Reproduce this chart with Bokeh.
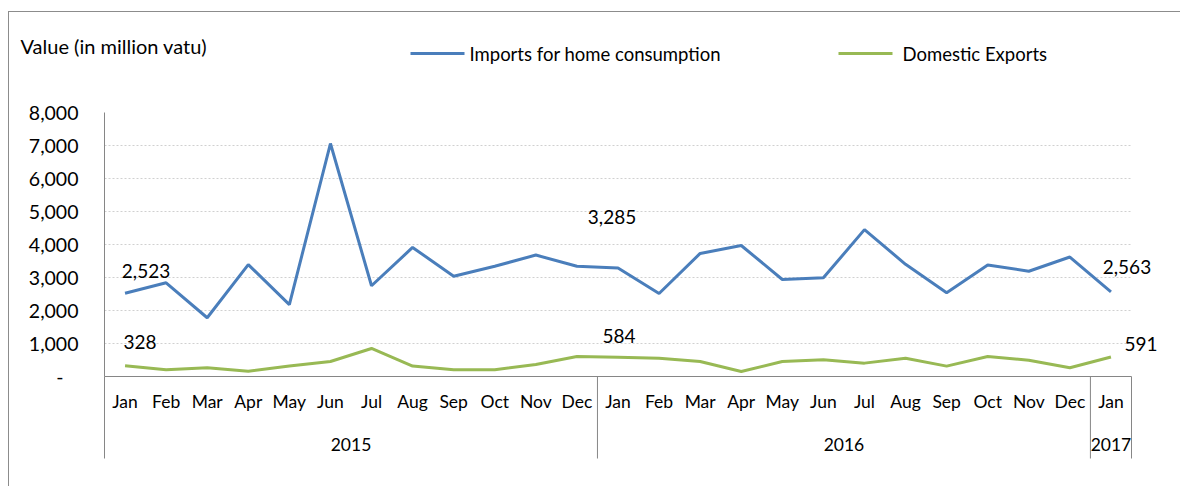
from bokeh.plotting import figure
from bokeh.models import (FactorRange, Range1d, FixedTicker, NumeralTickFormatter,
                          ColumnDataSource)
from bokeh.core.properties import value
from bokeh.embed import file_html
from bokeh.resources import INLINE

# ---- data ----
years = ["2015"] * 12 + ["2016"] * 12 + ["2017"]
months = ["Jan", "Feb", "Mar", "Apr", "May", "Jun", "Jul", "Aug", "Sep", "Oct", "Nov", "Dec"] * 2 + ["Jan"]
imports = [2523, 2840, 1780, 3390, 2180, 7060, 2750, 3910, 3040, 3340, 3680, 3340,
           3285, 2515, 3730, 3970, 2940, 2990, 4450, 3400, 2540, 3380, 3190, 3620, 2563]
exports = [328, 205, 265, 160, 315, 455, 850, 315, 205, 205, 365, 605,
           584, 555, 455, 150, 455, 505, 405, 555, 315, 605, 495, 265, 591]
y_ticks = [0, 1000, 2000, 3000, 4000, 5000, 6000, 7000, 8000]
labelled = [0, 12, 24]
series_names = ["Imports for home consumption", "Domestic Exports"]
title_text = "Value (in million vatu)"

FONT = "Lato"
BLUE = "#4a7ebb"
GREEN = "#98b954"
AXIS = "#868686"
FRAME = "#8c8c8c"

# ---- layout (page pixels) ----
W, H = 1180, 486
F_LEFT, F_RIGHT, F_TOP, F_BOTTOM = 104, 1131, 112, 376
Y_MAX = y_ticks[-1]
factors = list(zip(years, months))
CAT_W = (F_RIGHT - F_LEFT) / len(factors)


def ypx(py):
    """page pixel row -> data y"""
    return Y_MAX * (F_BOTTOM - py) / (F_BOTTOM - F_TOP)


def fx(px):
    """page pixel column -> categorical coordinate (first factor + offset)"""
    return (years[0], months[0], (px - F_LEFT) / CAT_W - 0.5)


p = figure(width=W, height=H, output_backend="svg", toolbar_location=None,
           x_range=FactorRange(*factors, factor_padding=0, group_padding=0,
                               subgroup_padding=0, range_padding=0),
           y_range=Range1d(0, Y_MAX),
           min_border_left=F_LEFT, min_border_right=W - F_RIGHT,
           min_border_top=F_TOP, min_border_bottom=H - F_BOTTOM)
p.outline_line_color = None
p.background_fill_color = "white"
p.border_fill_alpha = 0
p.styles = {
    "background": (f"linear-gradient({FRAME},{FRAME}) 8px 11px / 1px 100% no-repeat, "
                   f"linear-gradient({FRAME},{FRAME}) 8px 11px / 100% 1px no-repeat, white")
}

# y axis
p.yaxis.ticker = FixedTicker(ticks=y_ticks)
p.yaxis.formatter = NumeralTickFormatter(format="0,0")
p.yaxis.major_label_overrides = {0: "-\u00a0\u00a0\u00a0"}
p.yaxis.axis_line_color = AXIS
p.yaxis.major_tick_line_color = None
p.yaxis.minor_tick_line_color = None
p.yaxis.major_tick_out = 0
p.yaxis.major_tick_in = 0
p.yaxis.major_label_standoff = 26
p.yaxis.major_label_text_font = FONT
p.yaxis.major_label_text_font_size = "19.5px"
p.yaxis.major_label_text_color = "black"

# x axis (months from the axis, years drawn below)
p.xaxis.axis_line_color = AXIS
p.xaxis.major_tick_line_color = None
p.xaxis.minor_tick_line_color = None
p.xaxis.major_tick_out = 0
p.xaxis.major_tick_in = 0
p.xaxis.major_label_text_font = FONT
p.xaxis.major_label_text_font_size = "17.5px"
p.xaxis.major_label_text_color = "black"
p.xaxis.group_text_color = None
p.xaxis.major_label_standoff = 14
p.xaxis.separator_line_color = None

p.xgrid.grid_line_color = None
p.ygrid.grid_line_color = "#d0d0d0"
p.ygrid.grid_line_dash = "2 2"

# group separators below the axis
year_groups = list(dict.fromkeys(years))
sep_x = [(g, "Jan", -0.5) for g in year_groups] + [(years[-1], months[-1], 0.5)]
sep = p.segment(x0=sep_x, y0=[0] * len(sep_x), x1=sep_x, y1=[ypx(458)] * len(sep_x),
                line_color=AXIS, line_width=1)
sep.level = "overlay"

yl = p.text(x=year_groups, y=[ypx(444)] * len(year_groups), text=year_groups,
            text_align="center", text_baseline="middle", text_font=value(FONT),
            text_font_size="17.5px", text_color="black")
yl.level = "overlay"

# series
r1 = p.line(x=factors, y=imports, line_color=BLUE, line_width=3)
r2 = p.line(x=factors, y=exports, line_color=GREEN, line_width=3)

# data labels
lx = [factors[i] for i in labelled] * 2
ly = [imports[i] for i in labelled] + [exports[i] for i in labelled]
lt = [f"{v:,}" for v in ly]
dx = [21, -6, 16, 15, 1, 30]
dy = [-22, -51, -25, -24, -21, -13]
src = ColumnDataSource(dict(x=lx, y=ly, text=lt, dx=dx, dy=dy))
t = p.text(x="x", y="y", text="text", x_offset="dx", y_offset="dy", source=src,
           text_align="center", text_baseline="middle", text_font=value(FONT),
           text_font_size="19px", text_color="black")
t.level = "overlay"

# legend (drawn above the plot area)
for name, col, (g0, g1, tx) in [(series_names[0], BLUE, (410, 464, 469)),
                                (series_names[1], GREEN, (838, 892, 902))]:
    lr = p.line(x=[fx(g0), fx(g1)], y=[ypx(53)] * 2, line_color=col, line_width=3)
    lr.level = "overlay"
    tr = p.text(x=[fx(tx)], y=[ypx(53)], text=[name], text_align="left",
                text_baseline="middle", text_font=value(FONT), text_font_size="18.5px",
                text_color="black")
    tr.level = "overlay"

# title
tt = p.text(x=[fx(20)], y=[ypx(45)], text=[title_text], text_align="left",
            text_baseline="middle", text_font=value(FONT), text_font_size="20px",
            text_color="black")
tt.level = "overlay"

open("out.html", "w").write(file_html(p, INLINE))
